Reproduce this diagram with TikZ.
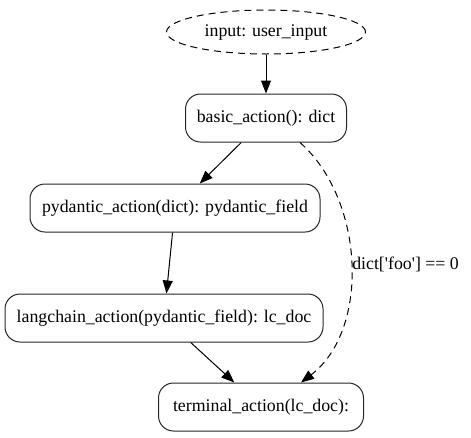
\documentclass[tikz,border=0pt]{standalone}
\usepackage{fontspec}
\setmainfont{Liberation Serif}
\usetikzlibrary{arrows.meta, shapes.geometric}

\begin{document}
\begin{tikzpicture}[
        x=1pt, y=-1pt,
        >={Triangle[length=13pt,width=10pt]},
        font=\fontsize{17.8}{20}\selectfont,
        action/.style={rectangle, draw=black!85, line width=1pt, rounded corners=15pt,
                       minimum height=48pt, inner xsep=9pt, align=center},
        entry/.style={ellipse, draw=black, line width=1pt, dash pattern=on 7pt off 5pt,
                      minimum width=199pt, minimum height=44pt, inner sep=0pt},
        arr/.style={->, draw=black, line width=1pt},
        arrd/.style={->, draw=black, line width=1pt, dash pattern=on 7pt off 5pt},
        lbl/.style={inner sep=0pt}
    ]
    \useasboundingbox (0,0) rectangle (471,437);

    % Input at top
    \node[entry] (input) at (266,32) {input: user\_input};

    % Action chain
    \node[action, minimum width=161pt] (basic)     at (266,118) {basic\_action(): dict};
    \node[action, minimum width=290pt] (pydantic)  at (175,208) {pydantic\_action(dict): pydantic\_field};
    \node[action, minimum width=318pt] (langchain) at (164,318) {langchain\_action(pydantic\_field): lc\_doc};
    \node[action, minimum width=205pt] (terminal)  at (261,407) {terminal\_action(lc\_doc):};

    % Main flow
    \draw[arr] (input) -- (basic);
    \draw[arr] (basic) -- (pydantic);
    \draw[arr] (pydantic) -- (langchain);
    \draw[arr] (langchain) -- (terminal);

    % Conditional shortcut
    \draw[arrd] ([xshift=34pt]basic.south) .. controls (365,200) and (370,330) .. ([xshift=40pt]terminal.north)
        node[pos=0.5, anchor=west, lbl, xshift=1pt] {dict[\textquotesingle foo\textquotesingle] == 0};

\end{tikzpicture}
\end{document}
